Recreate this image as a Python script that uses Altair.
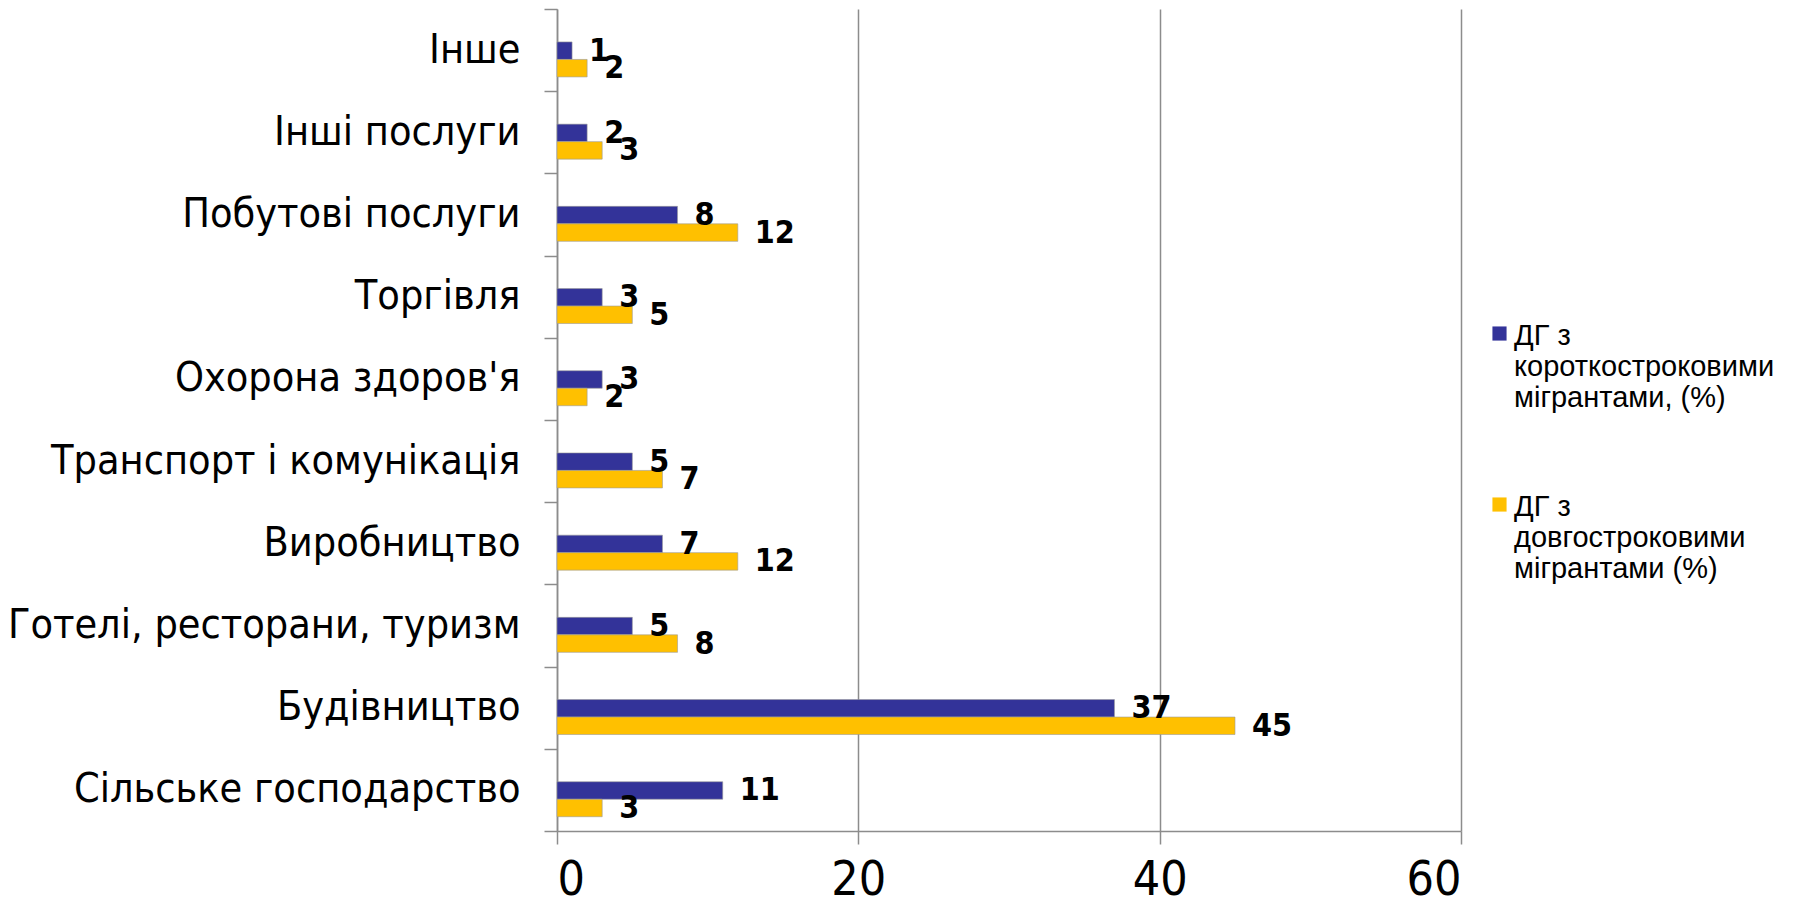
import altair as alt
import pandas as pd

categories = [
    "Інше",
    "Інші послуги",
    "Побутові послуги",
    "Торгівля",
    "Охорона здоров'я",
    "Транспорт і комунікація",
    "Виробництво",
    "Готелі, ресторани, туризм",
    "Будівництво",
    "Сільське господарство",
]
short_term = [1, 2, 8, 3, 3, 5, 7, 5, 37, 11]
long_term = [2, 3, 12, 5, 2, 7, 12, 8, 45, 3]

series_names = [
    "ДГ з\nкороткостроковими\nмігрантами, (%)",
    "ДГ з\nдовгостроковими\nмігрантами (%)",
]
series_colors = ["#333399", "#FFC000"]
x_ticks = [0, 20, 40, 60]

rows = []
for c, s, l in zip(categories, short_term, long_term):
    rows.append({"cat": c, "series": series_names[0], "value": s})
    rows.append({"cat": c, "series": series_names[1], "value": l})
df = pd.DataFrame(rows)

NARROW = "'Liberation Sans Narrow', 'Arial Narrow', 'DejaVu Sans Condensed', sans-serif"
REG = "'Liberation Sans', Arial, sans-serif"
GRID = "#8C8C8C"

# a spacer slot above the pair pushes the two bars below the band centre, as in the reference
offset_domain = ["_gap"] + series_names
offset_scale = alt.Scale(domain=offset_domain, paddingInner=0, paddingOuter=0.85, align=0.52)

y_enc = alt.Y(
    "cat:N",
    sort=categories,
    scale=alt.Scale(paddingInner=0, paddingOuter=0),
    axis=alt.Axis(
        title=None,
        tickBand="extent",
        domainColor=GRID,
        tickColor=GRID,
        tickSize=13,
        domainWidth=1.5,
        tickWidth=1.5,
        labelFont=NARROW,
        labelFontSize=41,
        labelColor="#000000",
        labelPadding=24,
        labelLimit=600,
        grid=False,
    ),
)
x_enc = alt.X(
    "value:Q",
    scale=alt.Scale(domain=[0, 60], nice=False),
    axis=alt.Axis(
        title=None,
        values=x_ticks,
        grid=True,
        gridColor=GRID,
        gridWidth=1.5,
        domainColor=GRID,
        domainWidth=1.5,
        tickColor=GRID,
        tickWidth=1.5,
        tickSize=13,
        labelFont=NARROW,
        labelFontSize=48,
        labelColor="#000000",
        labelPadding=12,
    ),
)

bars = alt.Chart(df).mark_bar(stroke="#9A9A9A", strokeWidth=0.6).encode(
    x=x_enc,
    y=y_enc,
    yOffset=alt.YOffset("series:N", scale=offset_scale),
    color=alt.Color(
        "series:N",
        scale=alt.Scale(domain=series_names, range=series_colors),
        legend=alt.Legend(
            title=None,
            orient="none",
            legendX=928,
            legendY=298,
            labelExpr="split(datum.label, '\\n')",
            labelFont=REG,
            labelFontSize=29,
            labelColor="#000000",
            labelBaseline="top",
            labelOffset=0,
            labelLimit=400,
            # square drawn a little below the entry centre so it sits beside the first text line
            symbolType="M-1,0.7H1V2.7H-1Z",
            symbolSize=200,
            symbolStrokeWidth=0,
            rowPadding=65,
        ),
    ),
)

labels = alt.Chart(df).mark_text(
    align="left", baseline="middle", dx=17, font=NARROW, fontSize=32, fontWeight="bold", color="#000000"
).encode(
    x=alt.X("value:Q"),
    y=alt.Y("cat:N", sort=categories),
    yOffset=alt.YOffset("series:N"),
    text=alt.Text("value:Q"),
)

chart = (
    alt.layer(bars, labels)
    .properties(
        width=904,
        height=822,
        padding={"left": 549, "top": 1, "right": 339, "bottom": 69},
        autosize=alt.AutoSizeParams(type="none"),
        background="#FFFFFF",
    )
    .configure_view(stroke=None)
)

chart.save("out.html", embed_options={"renderer": "svg", "actions": False})
